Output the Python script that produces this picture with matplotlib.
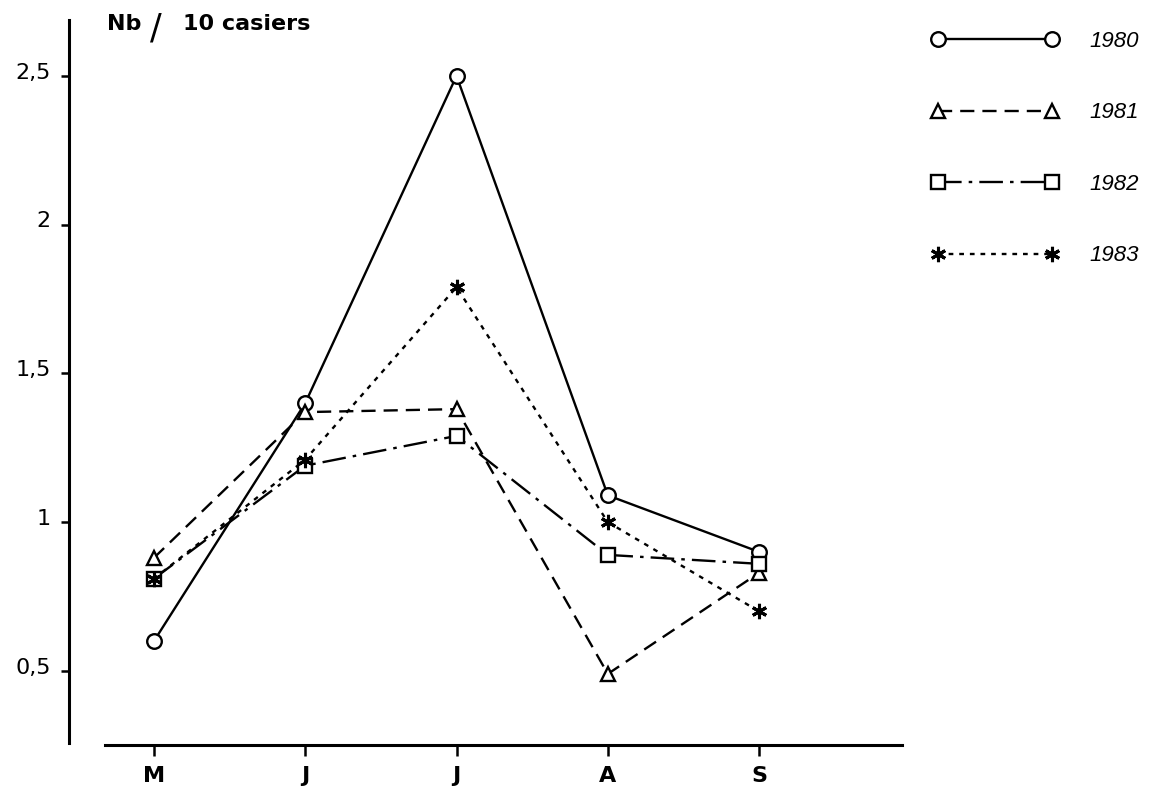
import matplotlib
matplotlib.use("Agg")
import matplotlib.pyplot as plt
from matplotlib.transforms import ScaledTranslation

plt.rcParams['font.family'] = ['DejaVu Sans']

months = ["M", "J", "J", "A", "S"]
y1980 = [0.60, 1.40, 2.50, 1.09, 0.90]
y1981 = [0.88, 1.37, 1.38, 0.49, 0.83]
y1982 = [0.81, 1.19, 1.29, 0.89, 0.86]
y1983 = [0.81, 1.21, 1.79, 1.00, 0.70]
yticks = [0.5, 1, 1.5, 2, 2.5]
ytick_labels = ["0,5", "1", "1,5", "2", "2,5"]
years = ["1980", "1981", "1982", "1983"]

W, H = 1150, 792
fig = plt.figure(figsize=(W / 100, H / 100), dpi=100)
# axes frame in pixels: left 69, right 902, top 20, bottom 745
ax = fig.add_axes([69 / W, 1 - 745 / H, (902 - 69) / W, (745 - 20) / H])

x = list(range(len(months)))
lw = 1.7
common = dict(color="black", lw=lw, mfc="white", mec="black", mew=1.7)
ax.plot(x, y1980, ls="-", marker="o", ms=10.5, label=years[0], **common)
ax.plot(x, y1981, ls=(0, (6, 3.4)), marker="^", ms=10.5, label=years[1], **common)
ax.plot(x, y1982, ls=(0, (10, 3, 1.5, 3)), marker="s", ms=9.5, label=years[2], **common)
ax.plot(x, y1983, ls=(0, (2, 2.5)), marker=(6, 2, 0), ms=11, color="black",
        lw=lw, mec="black", mew=2.2, label=years[3])

ax.set_xlim(-0.561, 4.944)
ax.set_ylim(0.251, 2.688)

for side in ("top", "right"):
    ax.spines[side].set_visible(False)
ax.spines["left"].set_linewidth(2.2)
ax.spines["bottom"].set_linewidth(2.2)
ax.spines["bottom"].set_bounds(-0.323, 4.944)
ax.spines["left"].set_bounds(0.258, 2.688)

ax.set_xticks(x)
ax.set_xticklabels(months, fontsize=16, fontweight="bold")
ax.set_yticks(yticks)
ax.set_yticklabels(ytick_labels, fontsize=16)
ax.tick_params(axis="x", direction="out", length=8, width=1.8, pad=7)
ax.tick_params(axis="y", direction="out", length=6, width=1.8, pad=7)

# y labels sit on the tick line rather than centred on it
shift = ScaledTranslation(0, -2 / 72, fig.dpi_scale_trans)
for lab in ax.get_yticklabels():
    lab.set_va("baseline")
    lab.set_transform(lab.get_transform() + shift)

# Unit label: "Nb / 10 casiers"
fig.text(107 / W, 1 - 24 / H, "Nb", fontsize=16, fontweight="bold", va="center", ha="left")
fig.text(150 / W, 1 - 28 / H, "/", fontsize=25, va="center", ha="left")
fig.text(183 / W, 1 - 24 / H, "10 casiers", fontsize=16, fontweight="bold", va="center", ha="left")

leg = ax.legend(loc="upper left", bbox_to_anchor=(931 / W, 1 - 31 / H),
                bbox_transform=fig.transFigure, frameon=False, numpoints=2,
                handlelength=5.73, handletextpad=1.4, labelspacing=2.27,
                prop=dict(family="Liberation Sans", size=16, style="italic"),
                borderaxespad=0, borderpad=0)

fig.savefig("out.png", dpi=100, facecolor="white")
